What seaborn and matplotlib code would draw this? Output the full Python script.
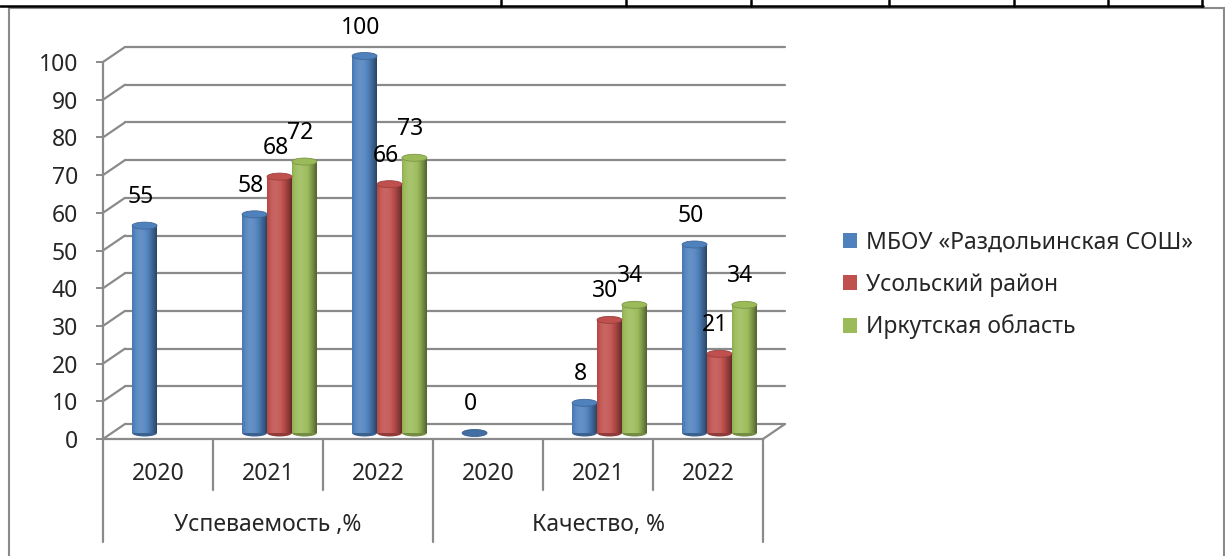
import numpy as np
import pandas as pd
import matplotlib
matplotlib.use('Agg')
import matplotlib.pyplot as plt
import matplotlib.transforms as mtransforms
from matplotlib.patches import Rectangle, Ellipse, Patch
import seaborn as sns

# data
groups = ['Успеваемость ,%', 'Качество, %']
years = ['2020', '2021', '2022']
series = ['МБОУ «Раздольинская СОШ»', 'Усольский район', 'Иркутская область']
school = [55, 58, 100, 0, 8, 50]
district = [None, 68, 66, None, 30, 21]
region = [None, 72, 73, None, 34, 34]
colors = ['#4F81BD', '#C0504D', '#9BBB59']

cats = [f'{g} {y}' for g in groups for y in years]
rows = []
for name, vals in zip(series, [school, district, region]):
    for c, v in zip(cats, vals):
        if v is not None:
            rows.append({'cat': c, 'series': name, 'value': v})
df = pd.DataFrame(rows)

sns.set_style('white')
plt.rcParams['font.family'] = ['Noto Sans', 'DejaVu Sans']
FS = 16.5
GRAY = '#8a8a8a'

W, H = 1225, 556
fig = plt.figure(figsize=(W / 100, H / 100), dpi=100)
# axes in pixels: front plane
ax_l, ax_r, ax_b, ax_t = 103, 763, 439, 62
ax = fig.add_axes([ax_l / W, (H - ax_b) / H, (ax_r - ax_l) / W, (ax_b - ax_t) / H])

sns.barplot(data=df, x='cat', y='value', hue='series', order=cats, hue_order=series,
            palette=colors, width=0.68, gap=0, saturation=1, errorbar=None,
            legend=False, ax=ax)
ax.set_xlim(-0.5, 5.5)
ax.set_ylim(0, 100)
ax.set_xlabel('')
ax.set_ylabel('')

px_x = (ax_r - ax_l) / 6.0      # px per category
px_y = (ax_b - ax_t) / 100.0    # px per unit
depth_px = (22, 15)
dx, dy = depth_px[0] / px_x, depth_px[1] / px_y

# back wall grid + connectors + floor
ticks = list(range(0, 101, 10))
for v in ticks:
    ax.plot([-0.5 + dx, 5.5 + dx], [v + dy, v + dy], color=GRAY, lw=1.6, clip_on=False, zorder=1)
    ax.plot([-0.5, -0.5 + dx], [v, v + dy], color=GRAY, lw=1.6, clip_on=False, zorder=1)
ax.plot([5.5, 5.5 + dx], [0, dy], color=GRAY, lw=1.6, clip_on=False, zorder=1)

# cylinders
bar_tr = mtransforms.offset_copy(ax.transData, fig=fig, x=11.5, y=6, units='dots')
lab_tr = mtransforms.offset_copy(ax.transData, fig=fig, x=7.5, y=34.5, units='dots')
ell_h = 7 / px_y


def shade(rgb, f):
    rgb = np.asarray(rgb)
    if f <= 1:
        return tuple(rgb * f)
    return tuple(rgb + (1 - rgb) * (f - 1))


n = 24
for p in list(ax.patches):
    rgb = p.get_facecolor()[:3]
    x0, w, h = p.get_x(), p.get_width(), p.get_height()
    p.set_transform(bar_tr)
    p.set_linewidth(0)
    p.set_zorder(3)
    ax.add_patch(Ellipse((x0 + w / 2, 0), w, ell_h, transform=bar_tr,
                         color=shade(rgb, 0.75), lw=0, zorder=2.8, clip_on=False))
    if h > 0:
        for i in range(n):
            t = (i + 0.5) / n
            f = 0.62 + 0.5 * np.cos(np.pi * (t - 0.35) / 1.15)
            ax.add_patch(Rectangle((x0 + i * w / n, 0), w / n * 1.05, h, transform=bar_tr,
                                   color=shade(rgb, f), lw=0, zorder=3.2, clip_on=False))
    ax.add_patch(Ellipse((x0 + w / 2, h), w, ell_h, transform=bar_tr,
                         facecolor=shade(rgb, 1.0 if h > 0 else 0.85),
                         edgecolor=shade(rgb, 0.8), lw=0.6, zorder=4, clip_on=False))
    ax.text(x0 + w / 2, h, f'{h:.0f}', transform=lab_tr, ha='center', va='center',
            fontsize=FS, color='black', zorder=5)

# axes styling
for s in ['top', 'right']:
    ax.spines[s].set_visible(False)
for s in ['left', 'bottom']:
    ax.spines[s].set_color(GRAY)
    ax.spines[s].set_linewidth(1.6)
ax.set_yticks(ticks)
ax.set_yticklabels([str(t) for t in ticks], fontsize=FS)
ax.tick_params(axis='y', length=5, width=1.4, color=GRAY, pad=13, left=True)
ax.tick_params(axis='x', length=0, labelbottom=False)

# category table under the axis
xt = ax.get_xaxis_transform()
for i, x in enumerate(np.arange(-0.5, 6, 1.0)):
    depth = 103 if i % 3 == 0 else 51
    ax.plot([x, x], [0, -depth / (ax_b - ax_t)], transform=xt, color=GRAY, lw=1.6, clip_on=False)
yr_tr = mtransforms.offset_copy(xt, fig=fig, x=0, y=-35, units='dots')
gr_tr = mtransforms.offset_copy(xt, fig=fig, x=0, y=-86, units='dots')
for i, c in enumerate(cats):
    ax.text(i, 0, years[i % 3], transform=yr_tr, ha='center', va='center', fontsize=FS)
for j, g in enumerate(groups):
    ax.text(3 * j + 1, 0, g, transform=gr_tr, ha='center', va='center', fontsize=FS)

# legend
handles = [Patch(facecolor=c, edgecolor='none') for c in colors]
fig.legend(handles, series, loc='center left', bbox_to_anchor=(843 / W, 1 - 285 / H),
           frameon=False, fontsize=FS, borderpad=0, borderaxespad=0,
           handlelength=0.61, handleheight=0.61, handletextpad=0.39, labelspacing=0.78)

# chart frame and the table line above it
fig.add_artist(Rectangle((9 / W, -0.02), (1224 - 9) / W, (H - 8) / H + 0.02,
                         transform=fig.transFigure, fill=False, ec=GRAY, lw=1.5))
fig.add_artist(plt.Line2D([0, 1203 / W], [1 - 6 / H, 1 - 6 / H], transform=fig.transFigure,
                          color='black', lw=1.8))
for xv in [501, 626, 751, 889, 1014, 1108, 1202]:
    fig.add_artist(plt.Line2D([xv / W, xv / W], [1 - 6 / H, 1], transform=fig.transFigure,
                              color='black', lw=1.8))

fig.savefig('out.png', dpi=100)
